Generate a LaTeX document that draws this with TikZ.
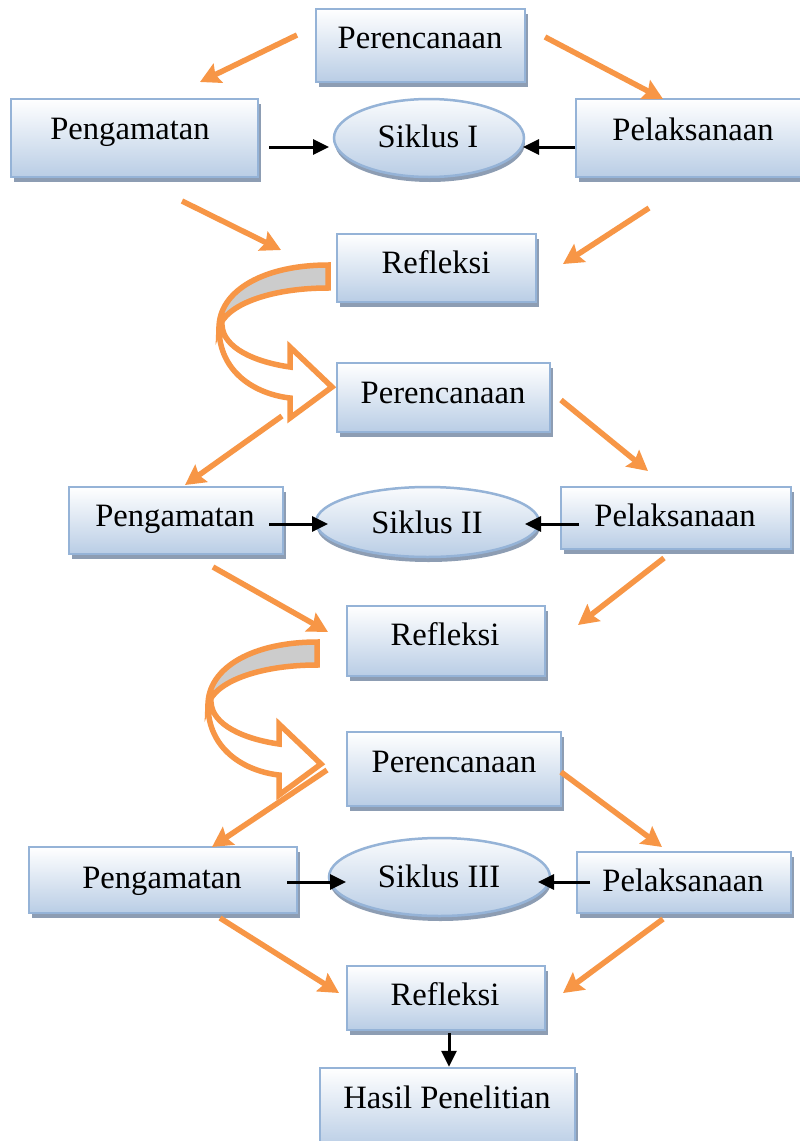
\documentclass[tikz,border=0pt]{standalone}
\usepackage{fontspec}
\setmainfont{Liberation Serif}
\usetikzlibrary{shapes.geometric,shadows,arrows.meta}
\definecolor{orng}{HTML}{F79646}
\definecolor{bord}{HTML}{95B3D7}
\definecolor{boxb}{HTML}{B9CDE5}
\definecolor{shad}{HTML}{8D9DB3}
\definecolor{band}{HTML}{CCCCCC}
\begin{document}
\begin{tikzpicture}[x=1pt,y=-1pt,
 box/.style={rectangle,draw=bord,line width=2.5pt,top color=white,bottom color=boxb,inner sep=0pt,
   drop shadow={shadow xshift=3pt,shadow yshift=-4.5pt,fill=shad,opacity=1}},
 ell/.style={ellipse,draw=bord,line width=2.5pt,top color=white!92!boxb,bottom color=boxb,inner sep=0pt,
   drop shadow={shadow xshift=1pt,shadow yshift=-5pt,fill=shad,opacity=1}},
 txt/.style={anchor=base,inner sep=0pt,font=\fontsize{32.6}{38}\selectfont},
 oarr/.style={draw=orng,line width=5.5pt,-{Stealth[length=20pt,width=21pt,inset=3pt]}},
 barr/.style={draw=black,line width=3pt,-{Triangle[length=16pt,width=15pt]}},
 curv/.style={draw=orng,line width=5.5pt,line join=miter},
]
\useasboundingbox (0,0) rectangle (800,1141);
\clip (0,0) rectangle (800,1141);
\fill[white] (0,0) rectangle (800,1141);

% curved arrows
\foreach \dx/\dy [count=\i] in {0/0,-11/377}{
\begin{scope}[shift={(\dx,\dy)}]
 \path[curv,fill=white] (219,328) .. controls (219,372) and (255,394) .. (290,398) -- (290,418) -- (332,387) -- (290,347) -- (290,367) .. controls (255,362) and (223,348) .. (222,325) -- cycle;
 \path[curv,fill=band] (328,265) .. controls (265,265) and (219,290) .. (219,328) .. controls (225,305) and (270,288) .. (328,288) -- cycle;
\end{scope}}

% cycle 1
\node[box,minimum width=209pt,minimum height=73pt] (p1) at (420.5,45.5) {};
\node[box,minimum width=247pt,minimum height=78pt] (g1) at (134.5,138) {};
\node[box,minimum width=234pt,minimum height=78pt] (l1) at (693,138) {};
\node[ell,minimum width=190pt,minimum height=78pt] (s1) at (429,138) {};
\node[box,minimum width=199pt,minimum height=68pt] (r1) at (436.5,268) {};
\node[txt] (p1t) at (420,48) {Perencanaan};
\node[txt] (g1t) at (130,139) {Pengamatan};
\node[txt] (l1t) at (693,140) {Pelaksanaan};
\node[txt] (s1t) at (428,147) {Siklus I};
\node[txt] (r1t) at (436,273) {Refleksi};

% cycle 2
\node[box,minimum width=213pt,minimum height=69pt] (p2) at (443.5,397.5) {};
\node[box,minimum width=214pt,minimum height=67pt] (g2) at (176,520.5) {};
\node[box,minimum width=230pt,minimum height=62pt] (l2) at (676,518) {};
\node[ell,minimum width=223pt,minimum height=70pt] (s2) at (427.5,522) {};
\node[box,minimum width=198pt,minimum height=70pt] (r2) at (446,641) {};
\node[txt] (p2t) at (443,403) {Perencanaan};
\node[txt] (g2t) at (175,526) {Pengamatan};
\node[txt] (l2t) at (675,526) {Pelaksanaan};
\node[txt] (s2t) at (427,533) {Siklus II};
\node[txt] (r2t) at (445,645) {Refleksi};

% cycle 3
\node[box,minimum width=214pt,minimum height=74pt] (p3) at (454,769) {};
\node[box,minimum width=268pt,minimum height=66pt] (g3) at (163,880) {};
\node[box,minimum width=214pt,minimum height=61pt] (l3) at (684,882.5) {};
\node[ell,minimum width=221pt,minimum height=78pt] (s3) at (439.5,877) {};
\node[box,minimum width=198pt,minimum height=64pt] (r3) at (446,998) {};
\node[box,minimum width=255pt,minimum height=80pt] (h) at (447.5,1108) {};
\node[txt] (p3t) at (454,772) {Perencanaan};
\node[txt] (g3t) at (162,888) {Pengamatan};
\node[txt] (l3t) at (683,891) {Pelaksanaan};
\node[txt] (s3t) at (439,887) {Siklus III};
\node[txt] (r3t) at (445,1005) {Refleksi};
\node[txt] (ht) at (447,1108) {Hasil Penelitian};

% connector end points
\coordinate (o1a) at (297,35);  \coordinate (o1b) at (200,82);
\coordinate (o2a) at (545,37);  \coordinate (o2b) at (663,99);
\coordinate (o3a) at (182,201); \coordinate (o3b) at (281,250);
\coordinate (o4a) at (649,208); \coordinate (o4b) at (563,264);
\coordinate (o5a) at (282,416); \coordinate (o5b) at (185,485);
\coordinate (o6a) at (561,400); \coordinate (o6b) at (648,471);
\coordinate (o7a) at (213,567); \coordinate (o7b) at (328,632);
\coordinate (o8a) at (664,558); \coordinate (o8b) at (578,625);
\coordinate (o9a) at (327,770); \coordinate (o9b) at (212,847);
\coordinate (o10a) at (561,772); \coordinate (o10b) at (662,847);
\coordinate (o11a) at (220,918); \coordinate (o11b) at (339,993);
\coordinate (o12a) at (663,919); \coordinate (o12b) at (563,993);
\foreach \i in {1,...,12}{\draw[oarr] (o\i a) -- (o\i b);}

\coordinate (b1a) at (269,147); \coordinate (b1b) at (329,147);
\coordinate (b2a) at (575,147); \coordinate (b2b) at (523,147);
\coordinate (b3a) at (269,524); \coordinate (b3b) at (328,524);
\coordinate (b4a) at (579,524); \coordinate (b4b) at (525,524);
\coordinate (b5a) at (287,882); \coordinate (b5b) at (346,882);
\coordinate (b6a) at (590,882); \coordinate (b6b) at (538,882);
\foreach \i in {1,...,6}{\draw[barr] (b\i a) -- (b\i b);}
\draw[barr] (r3.south -| 449,0) ++(0,2) -- (h.north -| 449,0);
\end{tikzpicture}
\end{document}
